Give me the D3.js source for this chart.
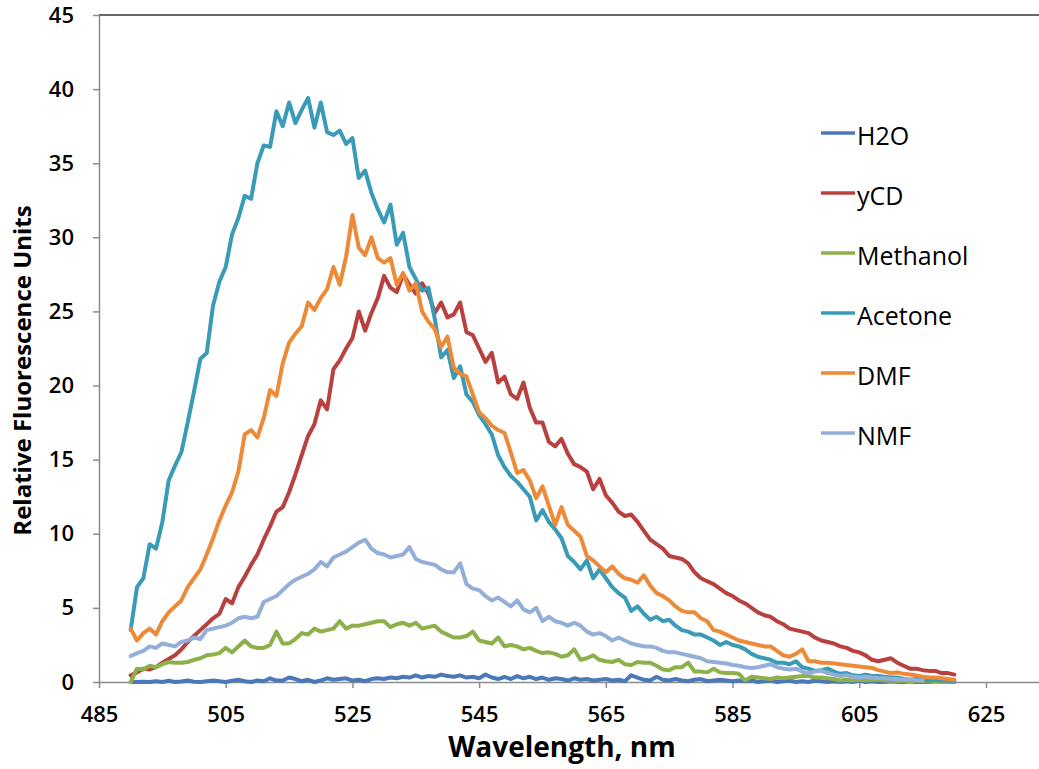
<!DOCTYPE html>
<html>
<head>
<meta charset="utf-8">
<script src="https://cdn.jsdelivr.net/npm/d3@7/dist/d3.min.js"></script>
<style>
  html, body { margin: 0; padding: 0; background: #fff; }
  svg { display: block; }
  text { font-family: "Open Sans", "Noto Sans", sans-serif; fill: #000; }
</style>
</head>
<body>
<svg id="chart" width="1039" height="769"></svg>
<script>
// ---------------- DATA ----------------
const startNm = 490;          // first wavelength of every series, 1 nm step
const seriesNames = ["H2O", "yCD", "Methanol", "Acetone", "DMF", "NMF"];
const xTickValues = [485, 505, 525, 545, 565, 585, 605, 625];
const yTickValues = [0, 5, 10, 15, 20, 25, 30, 35, 40, 45];

const h2o = [0.0,0.0,0.02,0.0,0.05,0.0,0.08,0.0,0.03,0.1,
  0.02,0.0,0.05,0.1,0.05,0.0,0.08,0.15,0.05,0.0,
  0.1,0.05,0.25,0.1,0.1,0.3,0.2,0.05,0.15,0.0,
  0.1,0.25,0.15,0.2,0.25,0.1,0.15,0.05,0.2,0.25,
  0.2,0.3,0.25,0.35,0.3,0.45,0.3,0.4,0.35,0.5,
  0.4,0.35,0.45,0.3,0.35,0.25,0.5,0.3,0.2,0.35,
  0.2,0.4,0.25,0.35,0.2,0.3,0.15,0.25,0.2,0.1,
  0.25,0.15,0.2,0.1,0.15,0.2,0.1,0.15,0.05,0.45,
  0.3,0.15,0.1,0.35,0.15,0.1,0.2,0.1,0.05,0.15,
  0.2,0.05,0.1,0.15,0.1,0.05,0.1,0.05,0.1,0.0,
  0.05,0.1,0.0,0.05,0.1,0.0,0.05,0.0,0.1,0.05,
  0.0,0.05,0.0,0.05,0.0,0.1,0.0,0.05,0.0,0.0,
  0.05,0.0,0.0,0.05,0.0,0.0,0.0,0.05,0.0,0.0,0.0];

const ycd = [0.45,0.65,0.9,0.85,1.0,1.3,1.55,1.8,2.2,2.7,
  3.1,3.5,3.9,4.3,4.6,5.6,5.3,6.4,7.1,7.9,
  8.6,9.6,10.5,11.5,11.8,12.8,14.0,15.3,16.6,17.4,
  19.0,18.4,21.1,21.7,22.5,23.2,25.0,23.7,24.9,25.9,
  27.4,26.6,26.3,27.5,26.8,26.2,26.9,26.2,24.9,25.6,
  24.6,24.8,25.6,23.6,23.4,22.5,21.6,22.2,20.2,20.6,
  19.4,19.1,20.2,18.5,17.5,17.5,16.2,15.9,16.4,15.4,
  14.7,14.5,14.2,13.0,13.7,12.6,12.1,11.5,11.2,11.3,
  10.8,10.2,9.6,9.3,9.0,8.5,8.4,8.3,8.0,7.4,
  7.0,6.8,6.6,6.3,6.0,5.8,5.5,5.3,5.0,4.7,
  4.5,4.4,4.1,3.9,3.6,3.5,3.4,3.3,3.0,2.8,
  2.7,2.6,2.4,2.3,2.1,2.0,1.8,1.5,1.4,1.5,
  1.6,1.3,1.1,0.9,0.9,0.8,0.75,0.75,0.6,0.6,0.5];

const methanol = [0.0,0.9,0.85,1.1,1.0,1.2,1.35,1.3,1.3,1.35,
  1.5,1.6,1.8,1.85,1.95,2.3,2.0,2.4,2.8,2.4,
  2.3,2.3,2.5,3.4,2.6,2.6,2.9,3.3,3.2,3.6,
  3.4,3.5,3.6,4.1,3.6,3.8,3.8,3.9,4.0,4.1,
  4.1,3.7,3.9,4.0,3.8,4.0,3.6,3.7,3.8,3.4,
  3.2,3.0,3.0,3.1,3.4,2.8,2.7,2.6,3.0,2.4,
  2.5,2.4,2.2,2.3,2.1,1.95,2.0,1.9,1.7,1.8,
  2.2,1.5,1.6,1.8,1.5,1.4,1.35,1.5,1.2,1.15,
  1.35,1.3,1.3,1.1,0.85,0.8,1.0,1.0,1.3,0.7,
  0.7,0.65,0.9,0.65,0.6,0.6,0.55,0.1,0.35,0.3,
  0.25,0.2,0.3,0.25,0.3,0.35,0.4,0.4,0.3,0.3,
  0.25,0.2,0.1,0.15,0.1,0.15,0.1,0.15,0.15,0.1,
  0.1,0.05,0.1,0.05,0.1,0.05,0.05,0.05,0.0,0.0,0.0];

const acetone = [3.5,6.4,7.0,9.3,9.0,10.8,13.6,14.6,15.5,17.5,
  19.6,21.8,22.2,25.4,27.0,28.0,30.2,31.3,32.8,32.6,
  35.0,36.2,36.1,38.5,37.5,39.1,37.7,38.6,39.4,37.4,
  39.1,37.1,36.9,37.2,36.3,36.7,34.0,34.5,33.0,31.9,
  31.0,32.2,29.5,30.3,28.0,27.2,26.4,26.6,24.5,21.9,
  22.4,20.5,21.3,19.4,18.9,18.0,17.4,16.7,15.3,14.5,
  13.9,13.5,13.0,12.5,10.9,11.6,10.8,10.3,9.7,8.5,
  8.1,7.6,8.2,7.0,7.6,7.0,6.4,6.0,5.7,4.8,
  5.1,4.6,4.2,4.4,4.1,4.2,3.8,3.5,3.4,3.2,
  3.2,3.0,2.8,2.5,2.7,2.5,2.4,2.2,1.9,1.7,
  1.6,1.5,1.3,1.3,1.2,1.4,1.0,0.9,0.75,0.8,
  0.9,0.7,0.55,0.6,0.45,0.4,0.5,0.4,0.4,0.35,
  0.3,0.3,0.2,0.15,0.2,0.15,0.1,0.15,0.1,0.1,0.05];

const dmf = [3.6,2.8,3.3,3.6,3.2,4.1,4.7,5.1,5.5,6.4,
  7.0,7.6,8.6,9.7,10.9,11.9,12.8,14.2,16.7,17.0,
  16.5,17.8,19.7,19.3,21.5,22.9,23.5,24.0,25.6,25.1,
  25.9,26.5,28.0,26.8,28.7,31.5,29.3,28.8,30.0,28.6,
  28.3,28.6,26.8,27.6,26.4,26.9,25.0,24.3,23.8,22.6,
  23.3,21.2,20.8,20.6,19.4,18.2,17.8,17.3,17.0,16.8,
  15.5,14.1,14.3,13.6,12.4,13.2,11.9,10.6,11.8,10.6,
  10.2,9.8,8.5,8.2,7.8,7.4,7.8,7.3,7.0,6.9,
  6.7,7.2,6.5,6.0,5.8,5.5,5.1,4.8,4.7,4.7,
  4.3,4.1,3.5,3.4,3.2,3.0,2.8,2.7,2.6,2.5,
  2.4,2.4,2.1,1.8,1.7,1.9,2.2,1.4,1.4,1.3,
  1.3,1.25,1.2,1.15,1.1,1.05,1.0,0.95,0.8,0.7,
  0.6,0.65,0.55,0.5,0.45,0.35,0.3,0.3,0.25,0.2,0.15];

const nmf = [1.75,1.95,2.1,2.4,2.3,2.6,2.5,2.4,2.7,2.8,
  3.0,2.9,3.5,3.6,3.7,3.8,4.0,4.3,4.4,4.3,
  4.4,5.4,5.6,5.8,6.2,6.6,6.9,7.1,7.3,7.6,
  8.1,7.8,8.4,8.6,8.8,9.1,9.4,9.6,9.0,8.7,
  8.6,8.4,8.5,8.6,9.1,8.3,8.1,8.0,7.9,7.6,
  7.4,7.4,8.0,6.6,6.3,6.2,5.8,5.5,5.7,5.4,
  5.1,5.5,4.9,4.7,5.0,4.1,4.4,4.1,4.0,3.8,
  4.0,3.8,3.4,3.2,3.3,3.1,2.8,3.0,2.8,2.6,
  2.5,2.4,2.4,2.3,2.1,2.0,2.0,1.9,1.8,1.7,
  1.6,1.4,1.35,1.3,1.25,1.15,1.1,1.0,0.95,1.0,
  1.1,1.2,1.0,0.9,0.85,0.9,0.7,0.6,0.7,0.75,
  0.6,0.5,0.4,0.45,0.35,0.3,0.35,0.3,0.27,0.25,
  0.2,0.2,0.15,0.15,0.12,0.1];

const seriesValues = [h2o, ycd, methanol, acetone, dmf, nmf];
const seriesColors = ["#4A78B8", "#B8413F", "#8DB04A", "#3A9BB8", "#EC8A38", "#93AFD8"];

// ---------------- LAYOUT ----------------
const svg = d3.select("#chart");
const chartW = 1039;
const plotLeft = 99, plotBottom = 682, plotTop = 15;
const tickLeftPx = 99, tickRightPx = 986;   // pixel positions of 485 and 625
const xMin = 485, xTickMax = 625;
const xMaxVisible = xMin + (xTickMax - xMin) * (chartW - plotLeft) / (tickRightPx - tickLeftPx);

const x = d3.scaleLinear().domain([xMin, xMaxVisible]).range([plotLeft, chartW]);
const y = d3.scaleLinear().domain([0, 45]).range([plotBottom, plotTop]);

// top border
svg.append("line")
  .attr("x1", x(xMin)).attr("x2", x(xMaxVisible))
  .attr("y1", y(45)).attr("y2", y(45))
  .attr("stroke", "#333").attr("stroke-width", 1.6);

// Y axis
const yAxis = svg.append("g")
  .attr("transform", `translate(${plotLeft},0)`)
  .call(d3.axisLeft(y).tickValues(yTickValues).tickSize(6).tickSizeOuter(0).tickPadding(19));
yAxis.select(".domain").attr("stroke", "#8c8c8c").attr("stroke-width", 1.5);
yAxis.selectAll(".tick line").attr("stroke", "#8c8c8c").attr("stroke-width", 1.5);
yAxis.selectAll(".tick text")
  .style("font-family", "'Open Sans', sans-serif")
  .style("font-size", "22px").style("font-weight", "600").attr("fill", "#000");

// X axis
const xAxis = svg.append("g")
  .attr("transform", `translate(0,${plotBottom})`)
  .call(d3.axisBottom(x).tickValues(xTickValues).tickSize(6).tickSizeOuter(0).tickPadding(18));
xAxis.select(".domain").attr("stroke", "#8c8c8c").attr("stroke-width", 1.5);
xAxis.selectAll(".tick line").attr("stroke", "#8c8c8c").attr("stroke-width", 1.5);
xAxis.selectAll(".tick text")
  .style("font-family", "'Open Sans', sans-serif")
  .style("font-size", "22px").style("font-weight", "600").attr("fill", "#000");

// Axis titles
svg.append("text")
  .attr("x", 562).attr("y", 757)
  .attr("text-anchor", "middle")
  .style("font-size", "28px").style("font-weight", "700")
  .text("Wavelength, nm");

svg.append("text")
  .attr("transform", `translate(31,${(plotTop + plotBottom) / 2 + 22}) rotate(-90)`)
  .attr("text-anchor", "middle")
  .style("font-size", "24px").style("font-weight", "700")
  .text("Relative Fluorescence Units");

// Series lines
const line = d3.line()
  .x((d, i) => x(startNm + i))
  .y(d => y(d))
  .curve(d3.curveLinear);

svg.append("g").selectAll("path")
  .data(seriesValues)
  .join("path")
  .attr("d", d => line(d))
  .attr("fill", "none")
  .attr("stroke", (d, i) => seriesColors[i])
  .attr("stroke-width", 4)
  .attr("stroke-linejoin", "round")
  .attr("stroke-linecap", "round");

// Legend
const legendX = 821, legendY0 = 133, legendStep = 60;
const legend = svg.append("g");
seriesNames.forEach((name, i) => {
  const gy = legendY0 + i * legendStep;
  legend.append("line")
    .attr("x1", legendX).attr("x2", legendX + 34)
    .attr("y1", gy).attr("y2", gy)
    .attr("stroke", seriesColors[i]).attr("stroke-width", 3.6);
  legend.append("text")
    .attr("x", legendX + 36).attr("y", gy + 3)
    .attr("dy", "0.35em")
    .style("font-size", "25px").style("font-weight", "500")
    .text(name);
});
</script>
</body>
</html>
